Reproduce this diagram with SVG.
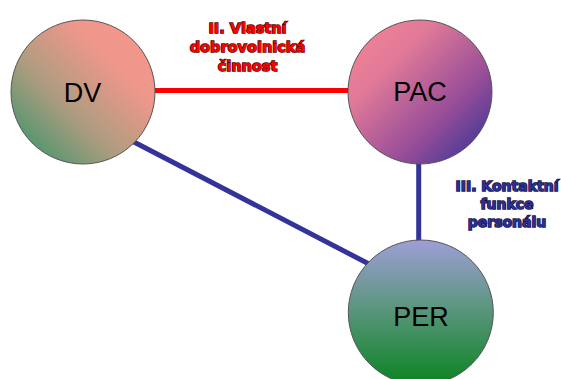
<svg xmlns="http://www.w3.org/2000/svg" width="561" height="379" viewBox="0 0 561 379">
  <defs>
    <linearGradient id="gDV" x1="1" y1="0" x2="0" y2="1">
      <stop offset="0" stop-color="#fa968c"/>
      <stop offset="0.3" stop-color="#ee978a"/>
      <stop offset="0.6" stop-color="#b09c80"/>
      <stop offset="1" stop-color="#2a9466"/>
    </linearGradient>
    <linearGradient id="gPAC" x1="0" y1="0" x2="1" y2="1">
      <stop offset="0" stop-color="#fa8494"/>
      <stop offset="0.3" stop-color="#e07a98"/>
      <stop offset="0.65" stop-color="#9a4e98"/>
      <stop offset="1" stop-color="#2a3096"/>
    </linearGradient>
    <linearGradient id="gPER" x1="0" y1="0" x2="0" y2="1">
      <stop offset="0" stop-color="#9e9ed6"/>
      <stop offset="0.45" stop-color="#5e9682"/>
      <stop offset="1" stop-color="#0a8420"/>
    </linearGradient>
  </defs>
  <style>
    .node { stroke: #555; stroke-width: 1; }
    .lbl { font-family: "Liberation Sans", Arial, sans-serif; font-size: 27px; fill: #000; text-anchor: middle; }
    .red { stroke: #ff0000; stroke-width: 5; fill: none; }
    .blue { stroke: #333399; stroke-width: 5; fill: none; }
    .tred { font-family: "DejaVu Sans", sans-serif; font-weight: bold; font-size: 14.5px; fill: #ff0000; stroke: #5a0000; stroke-width: 1.4; paint-order: stroke; text-anchor: middle; }
    .tblue { font-family: "DejaVu Sans", sans-serif; font-weight: bold; font-size: 14px; fill: #2e2e8e; stroke: #10104a; stroke-width: 1.4; paint-order: stroke; text-anchor: middle; }
  </style>
  <rect width="561" height="379" fill="#ffffff"/>
  <g id="connectors">
    <line class="red" x1="155" y1="90.5" x2="348" y2="90.5"/>
    <line class="blue" x1="418.7" y1="162" x2="418.7" y2="241"/>
    <line class="blue" x1="133" y1="141.5" x2="369" y2="264"/>
  </g>
  <g id="label-II">
    <text class="tred" x="247.5" y="32.5">II. Vlastní</text>
    <text class="tred" x="247.5" y="51.5">dobrovolnická</text>
    <text class="tred" x="247.5" y="70.5">činnost</text>
  </g>
  <g id="label-III">
    <text class="tblue" x="507" y="190.5">III. Kontaktní</text>
    <text class="tblue" x="507" y="209">funkce</text>
    <text class="tblue" x="507" y="227">personálu</text>
  </g>
  <g id="DV">
    <circle class="node" cx="83" cy="92" r="72" fill="url(#gDV)"/>
    <text class="lbl" x="82.5" y="101.5">DV</text>
  </g>
  <g id="PAC">
    <circle class="node" cx="420" cy="92" r="72" fill="url(#gPAC)"/>
    <text class="lbl" x="420" y="101">PAC</text>
  </g>
  <g id="PER">
    <circle class="node" cx="420.8" cy="312.5" r="72.5" fill="url(#gPER)"/>
    <text class="lbl" x="421" y="326">PER</text>
  </g>
</svg>
